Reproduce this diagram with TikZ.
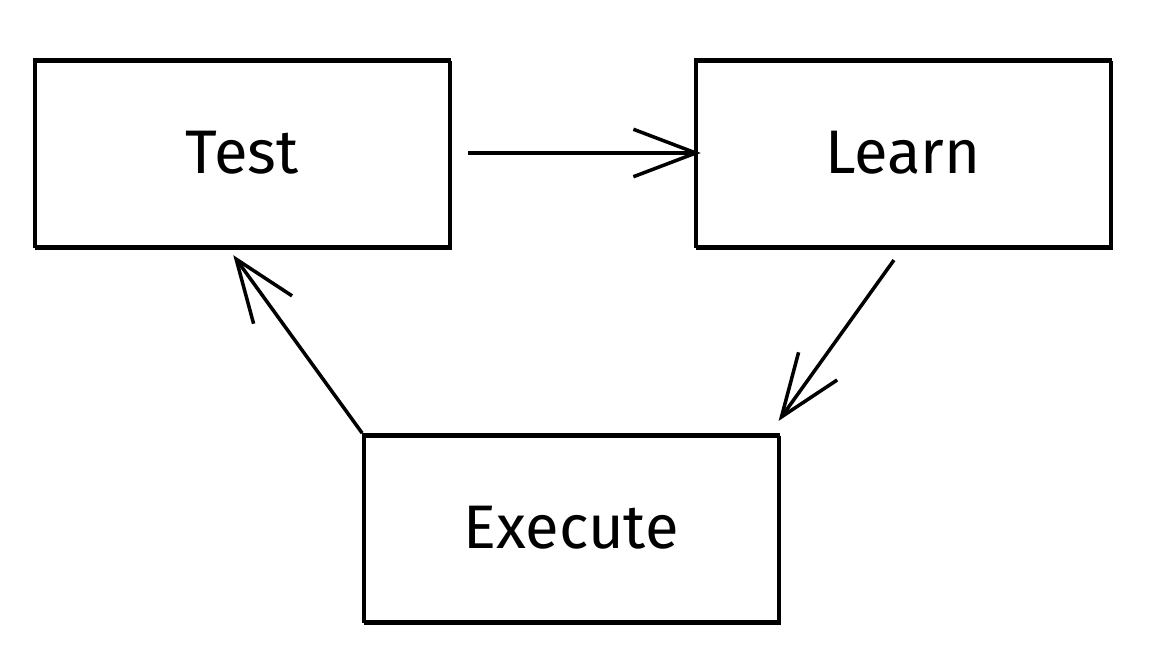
\documentclass[tikz,border=0pt]{standalone}
\usepackage{fontspec}
\setmainfont{Fira Sans}
\usetikzlibrary{arrows.meta, positioning}
\tikzstyle{stage} = [rectangle, draw, line width=1.6pt, minimum width=8.3cm, minimum height=3.74cm, text centered, font=\fontsize{35}{42}\selectfont, preaction={draw, line width=1.2pt, transform canvas={shift={(0.8pt,-1.6pt)}}}]
\tikzstyle{link} = [line width=2pt, -{Straight Barb[length=1.25cm, width=0.95cm, line width=2pt]}]

\begin{document}
\begin{tikzpicture}[x=0.02cm, y=-0.02cm]
  \useasboundingbox (0,0) rectangle (1164,651);
  \node (test) [stage] at (242,153) {Test};
  \node (learn) [stage, right = 4.86cm of test] {Learn};
  \node (execute) [stage] at (571,528) {Execute};
  \draw [link, shorten <=0.34cm, shorten >=-0.14cm] (test.east) -- (learn.west);
  \draw [link, shorten <=0.3cm, shorten >=0.3cm] (learn.south) -- ([xshift=-0.2cm]execute.north east);
  \draw [link, shorten >=0.18cm] (execute.north west) -- ([xshift=-0.28cm]test.south);
\end{tikzpicture}
\end{document}
